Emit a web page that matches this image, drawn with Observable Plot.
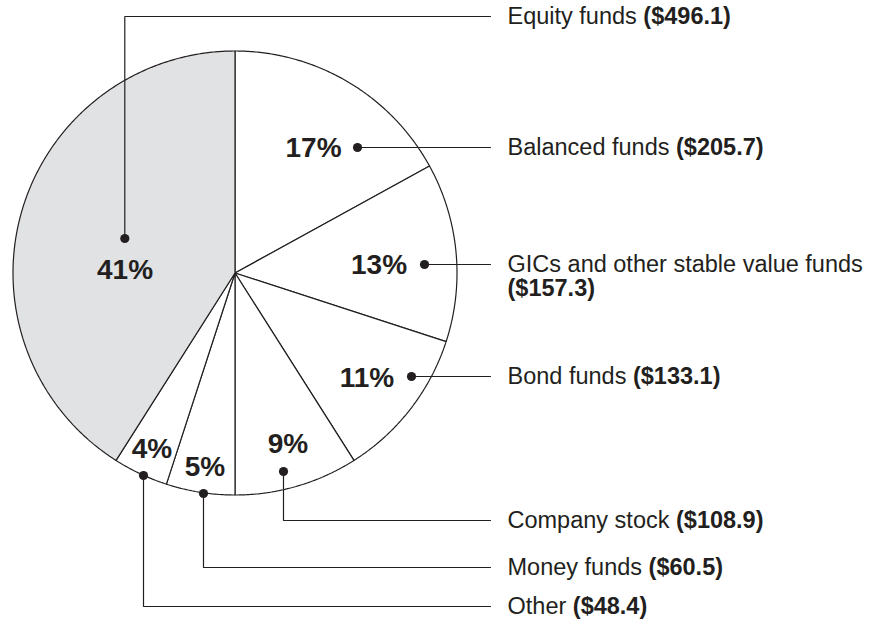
<!DOCTYPE html>
<html>
<head>
<meta charset="utf-8">
<script src="https://cdn.jsdelivr.net/npm/d3@7"></script>
<script src="https://cdn.jsdelivr.net/npm/@observablehq/plot@0.6"></script>
<style>
  html, body { margin: 0; padding: 0; background: #ffffff; }
  #chart svg { display: block; }
</style>
</head>
<body>
<div id="chart"></div>
<script>
// ---------- DATA ----------
const names = [
  "Equity funds",
  "Balanced funds",
  "GICs and other stable value funds",
  "Bond funds",
  "Company stock",
  "Money funds",
  "Other"
];
const amounts = [496.1, 205.7, 157.3, 133.1, 108.9, 60.5, 48.4];
// clockwise order of slices starting at 12 o'clock
const pieOrder = [
  "Balanced funds",
  "GICs and other stable value funds",
  "Bond funds",
  "Company stock",
  "Money funds",
  "Other",
  "Equity funds"
];

// ---------- LAYOUT (pixels) ----------
const W = 876, H = 624;
const cx = 234.5, cy = 272.5, R = 222;       // pie centre and radius
const dotPx  = [[124.3, 238], [357, 147], [424, 264], [411, 376], [283, 471], [203, 493], [143, 475]];
const pctPx  = [[124.5, 270], [313, 148], [378.5, 265], [366.5, 378], [287.5, 444], [204.5, 467], [151.5, 449]];
const calloutYPx = [16, 147, 264, 376, 520, 567, 606];
const wrapAmount = [false, false, true, false, false, false, false];
const lineEndPx = 490, textStartPx = 507, lineGapPx = 24;
const labelSize = 23.5, pctSize = 28;
const ink = "#231f20", shade = "#e1e2e4";
const fontFamily = '"Liberation Sans", Arial, Helvetica, sans-serif';

// pixel -> unit (pie radius = 1, y up)
const ux = px => (px - cx) / R;
const uy = py => (cy - py) / R;

// ---------- DERIVED TABLES ----------
const total = d3.sum(amounts);
const byName = new Map(names.map((n, i) => [n, amounts[i]]));

// slice polygons
const slicePts = [];
let acc = 0;
for (const n of pieOrder) {
  const f0 = acc / total;
  acc += byName.get(n);
  const f1 = acc / total;
  const fill = n === "Equity funds" ? shade : "#ffffff";
  slicePts.push({name: n, fill, x: 0, y: 0});
  const steps = Math.max(2, Math.ceil((f1 - f0) * 720));
  for (let k = 0; k <= steps; k++) {
    const t = 2 * Math.PI * (f0 + (f1 - f0) * k / steps);
    slicePts.push({name: n, fill, x: Math.sin(t), y: Math.cos(t)});
  }
  slicePts.push({name: n, fill, x: 0, y: 0});
}

// measure text width for mixed-weight labels
const ctx = document.createElement("canvas").getContext("2d");
function textWidth(s, weight) {
  ctx.font = `${weight} ${labelSize}px ${fontFamily}`;
  return ctx.measureText(s).width;
}

const rows = names.map((n, i) => {
  const pct = Math.round(amounts[i] / total * 100) + "%";
  const amt = `($${amounts[i].toFixed(1)})`;
  const wrap = wrapAmount[i];
  return {
    name: n,
    pct,
    amt,
    dx: ux(dotPx[i][0]), dy: uy(dotPx[i][1]),
    px: ux(pctPx[i][0]), py: uy(pctPx[i][1]),
    ly: uy(calloutYPx[i]),
    ax: wrap ? ux(textStartPx) : ux(textStartPx + textWidth(n + " ", "normal")),
    ay: wrap ? uy(calloutYPx[i] + lineGapPx) : uy(calloutYPx[i])
  };
});

const leaderPts = rows.flatMap(r => [
  {name: r.name, x: r.dx, y: r.dy},
  {name: r.name, x: r.dx, y: r.ly},
  {name: r.name, x: ux(lineEndPx), y: r.ly}
]);

// ---------- PLOT ----------
const chart = Plot.plot({
  width: W,
  height: H,
  margin: 0,
  style: {fontFamily, background: "#ffffff", color: ink},
  x: {axis: null, domain: [ux(0), ux(W)]},
  y: {axis: null, domain: [uy(H), uy(0)]},
  color: {type: "identity"},
  marks: [
    Plot.line(slicePts, {
      x: "x", y: "y", z: "name", fill: "fill",
      stroke: ink, strokeWidth: 1.2, curve: "linear", strokeLinejoin: "miter"
    }),
    Plot.line(leaderPts, {
      x: "x", y: "y", z: "name", stroke: ink, strokeWidth: 1.2, curve: "linear", strokeLinejoin: "miter"
    }),
    Plot.dot(rows, {x: "dx", y: "dy", r: 4.6, fill: ink, stroke: "none"}),
    Plot.text(rows, {
      x: "px", y: "py", text: "pct", fontSize: pctSize, fontWeight: "bold",
      fill: ink, textAnchor: "middle", fontFamily
    }),
    Plot.text(rows, {
      x: () => ux(textStartPx), y: "ly", text: "name", fontSize: labelSize,
      fill: ink, textAnchor: "start", fontFamily
    }),
    Plot.text(rows, {
      x: "ax", y: "ay", text: "amt", fontSize: labelSize, fontWeight: "bold",
      fill: ink, textAnchor: "start", fontFamily
    })
  ]
});

document.getElementById("chart").appendChild(chart);
</script>
</body>
</html>
